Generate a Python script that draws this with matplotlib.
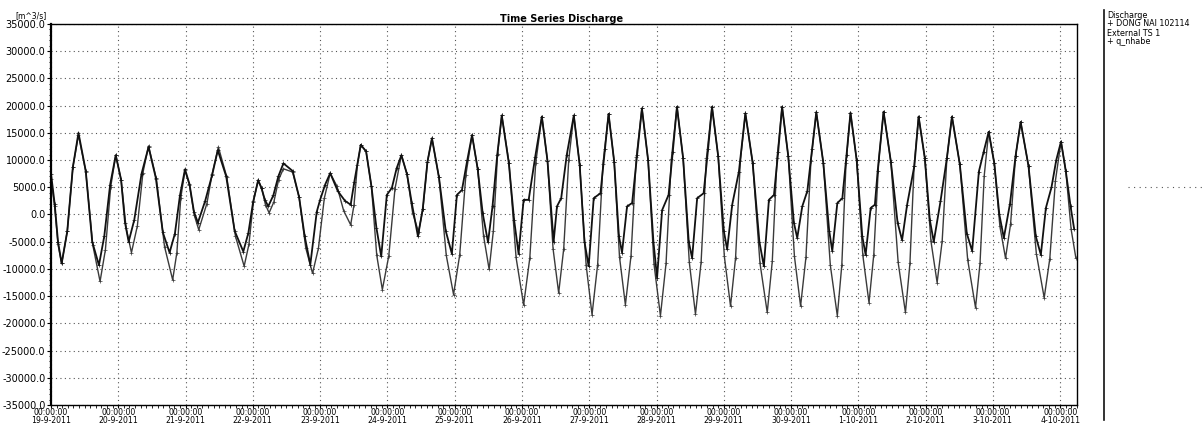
import matplotlib
matplotlib.use("Agg")
import matplotlib.dates as mdates
import matplotlib.pyplot as plt
import numpy as np
import pandas as pd
from matplotlib.lines import Line2D
from matplotlib.ticker import FuncFormatter, MultipleLocator

START = pd.Timestamp("2011-09-19 00:00:00")
END = pd.Timestamp("2011-10-04 06:00:00")

# Discharge -> DONG NAI 102114 (hours since start, m^3/s)
hours_dongnai = [
    0.0, 1.3, 2.5, 3.8, 5.8, 7.8, 9.8, 12.4, 14.7, 17.1, 19.0, 21.1, 23.1,
    25.0, 26.4, 27.7, 29.7, 32.3, 34.8, 37.4, 39.9, 42.3, 44.2, 46.0, 47.8,
    49.4, 51.0, 52.4, 55.0, 57.5, 59.5, 62.5, 65.5, 68.6, 70.4, 72.1, 73.9,
    75.1, 76.3, 77.5, 79.3, 81.1, 82.9, 86.2, 88.5, 90.5, 92.5, 94.8, 96.0,
    97.8, 99.6, 102.3, 104.9, 106.9, 108.2, 110.5, 112.4, 114.3, 116.1, 117.8,
    119.8, 121.6, 123.3, 125.0, 127.0, 128.7, 130.9, 132.6, 134.3, 135.9,
    138.4, 140.8, 143.0, 144.8, 146.6, 148.5, 150.2, 152.2, 154.0, 155.9,
    157.5, 159.2, 160.8, 163.3, 165.2, 166.8, 168.6, 170.4, 172.7, 175.1,
    177.1, 179.3, 180.5, 182.0, 184.0, 186.5, 188.6, 190.3, 191.8, 193.6,
    196.0, 197.6, 198.9, 200.9, 202.6, 203.7, 205.5, 207.3, 209.1, 210.8,
    213.0, 214.9, 216.2, 218.0, 220.3, 221.8, 223.3, 225.5, 227.5, 228.7,
    230.5, 232.8, 234.4, 235.8, 238.0, 240.0, 241.2, 243.0, 245.4, 247.7,
    250.3, 252.7, 254.3, 256.1, 257.9, 259.4, 260.8, 263.0, 265.0, 266.2,
    268.0, 269.8, 271.5, 273.0, 275.5, 277.6, 278.7, 280.5, 282.3, 283.8,
    285.2, 287.4, 289.4, 290.6, 292.4, 293.9, 294.9, 297.0, 299.6, 302.0,
    303.6, 305.4, 308.0, 309.5, 311.7, 313.5, 314.9, 317.3, 319.6, 321.4,
    324.2, 326.7, 328.6, 331.0, 332.7, 334.5, 336.5, 338.3, 339.9, 342.1,
    344.1, 345.9, 348.7, 351.3, 353.1, 354.9, 356.9, 358.6, 360.3, 362.0,
    363.7, 365.0,
]
flow_dongnai = [
    7500, 2000, -5000, -9000, -3100, 8700, 15000, 8000, -5000, -9300, -4000, 5500, 10900,
    6400, -1500, -5000, -1000, 7500, 12400, 6700, -3300, -7000, -3500, 3500, 8300,
    5600, 500, -1500, 2500, 7300, 11800, 7000, -3000, -6800, -3400, 2300, 6300,
    4800, 2700, 1500, 3500, 7000, 9400, 8000, 3200, -4000, -9200, 500, 2700,
    5500, 7600, 4300, 2500, 1800, 6000, 12800, 11600, 5200, -2500, -7700,
    3600, 4900, 8500, 10900, 7400, 2100, -4000, 1000, 9700, 14000,
    6800, -3000, -7200, 3600, 4500, 10000, 14600, 8400, 200, -5100,
    1500, 11000, 18200, 9500, -1000, -7200, 2700, 2700, 10500, 18000,
    9900, -5000, 1500, 3000, 11000, 18200, 9100, -5000, -9500, 3000,
    3900, 12000, 18500, 9700, -4000, -7000, 1500, 2100, 11000, 19500,
    10000, -5000, -11600, 800, 3600, 11500, 19800, 10300, -5000, -8000,
    3000, 3900, 12000, 19800, 10700, -3000, -6400, 1800, 7900, 18600,
    9500, -5000, -9500, 2700, 3600, 11500, 19800, 10700, -1500, -4300,
    1500, 4300, 12000, 18800, 9500, -3000, -6700, 2100, 3000, 11000,
    18700, 10000, -4000, -7400, 1200, 1800, 8000, 18900, 9700, -1500,
    -4700, 1800, 9000, 18000, 10400, -1000, -5000, 2400, 10400, 18000,
    9200, -3500, -6700, 7900, 11500, 15200, 9400, 0, -4300, 2000,
    10800, 17000, 8900, -4000, -7400, 1200, 5000, 10000, 13400, 8000,
    1500, -2700,
]

# External TS 1 -> q_nhabe (hours since start, m^3/s)
hours_nhabe = [
    0.0, 1.3, 2.5, 3.8, 5.8, 7.8, 9.8, 12.4, 14.9, 17.5, 19.4, 21.3, 23.1,
    25.0, 26.8, 28.7, 30.8, 32.8, 34.8, 37.6, 40.5, 43.4, 44.9, 46.3, 47.8,
    49.4, 51.1, 52.7, 55.6, 57.5, 59.7, 62.7, 65.8, 68.9, 70.6, 72.2, 73.9,
    75.2, 76.5, 77.8, 79.5, 81.2, 82.9, 86.2, 88.5, 90.9, 93.3, 95.4, 97.5,
    99.6, 102.0, 104.4, 106.9, 108.1, 109.3, 110.5, 112.4, 114.3, 116.2, 118.2,
    120.5, 122.7, 125.0, 127.0, 129.0, 131.1, 132.7, 134.3, 135.9, 138.4,
    141.0, 143.6, 145.8, 148.0, 150.2, 152.2, 154.3, 156.3, 157.8, 159.3,
    160.8, 163.4, 165.9, 168.6, 170.8, 172.9, 175.1, 177.1, 179.1, 181.1,
    182.9, 184.7, 186.5, 188.6, 190.9, 193.0, 195.0, 196.9, 198.9, 200.9,
    202.8, 204.9, 206.9, 208.8, 210.8, 213.0, 215.1, 217.4, 219.4, 221.3,
    223.3, 225.5, 227.7, 229.9, 231.9, 233.8, 235.8, 238.0, 240.2, 242.4,
    244.2, 245.9, 247.7, 250.3, 252.9, 255.5, 257.3, 259.0, 260.8, 263.0,
    265.2, 267.4, 269.3, 271.1, 273.0, 275.5, 278.0, 280.5, 282.1, 283.6,
    285.2, 287.4, 289.6, 291.8, 293.5, 295.3, 297.0, 299.6, 302.2, 304.8,
    306.4, 307.9, 309.5, 311.7, 313.9, 316.1, 317.9, 319.6, 321.4, 324.2,
    327.0, 329.8, 331.4, 332.9, 334.5, 336.5, 338.5, 340.5, 342.3, 344.1,
    345.9, 348.7, 351.5, 354.3, 356.3, 358.3, 360.3, 362.0, 363.9, 365.6,
]
flow_nhabe = [
    6500, 1500, -5500, -9000, -3100, 8700, 14600, 7900, -5600, -12300, -6500, 5100, 10900,
    6400, -2500, -7000, -2100, 7700, 12600, 6500, -5900, -12000, -7000, 3100, 8100,
    5400, -100, -2800, 2000, 7500, 12400, 6900, -4000, -9500, -5500, 2400, 6300,
    4800, 1800, 300, 2300, 6400, 8400, 7800, 3200, -6200, -10800, -6200, 3000,
    7600, 5200, 700, -1900, 1800, 9100, 12800, 11600, 5200, -7500, -13800,
    -7600, 4700, 10900, 7400, 300, -3200, 1100, 9700, 14000, 6800,
    -7500, -14700, -7400, 7300, 14600, 8400, -3900, -10100, -3000, 11100,
    18200, 9500, -7900, -16600, -8000, 9400, 18000, 9900, -6300, -14400,
    -6300, 10100, 18200, 9100, -9300, -18400, -9200, 9300, 18500, 9700,
    -7800, -16600, -7600, 10500, 19500, 10000, -9100, -18600, -9000, 10200,
    19800, 10300, -8800, -18300, -8800, 10300, 19800, 10700, -7700, -16800,
    -8000, 9800, 18600, 9500, -8900, -18000, -8600, 10400, 19800, 10700,
    -7700, -16800, -7900, 9900, 18800, 9500, -9300, -18600, -9300, 9400,
    18700, 10000, -7500, -16200, -7400, 10100, 18900, 9700, -8800, -18000,
    -9000, 9000, 18000, 10400, -4900, -12500, -4900, 10400, 18000, 9200,
    -8300, -17100, -9000, 7100, 15200, 9400, -2200, -8000, -1800, 10800,
    17000, 8900, -7200, -15300, -8100, 6200, 13400, 8000, -2700, -8000,
]

legend_blocks = ["Discharge\n+ DONG NAI 102114", "External TS 1\n+ q_nhabe"]


def to_times(hours):
    return START + pd.to_timedelta(np.asarray(hours), unit="h")


def day_label(value, _pos):
    d = mdates.num2date(value)
    return f"{d:%H:%M:%S}\n{d.day}-{d.month}-{d.year}"


fig = plt.figure(figsize=(12.02, 4.26), dpi=100)
ax = fig.add_axes([51 / 1202, 1 - 405 / 426, 1026 / 1202, 381 / 426])

ax.plot(to_times(hours_nhabe), flow_nhabe, color="#3a3a3a", linewidth=1.0,
        marker="+", markersize=2.2, markeredgewidth=0.5)
ax.plot(to_times(hours_dongnai), flow_dongnai, color="#111111", linewidth=1.3,
        marker="+", markersize=2.2, markeredgewidth=0.5)

ax.set_xlim(START, END)
ax.set_ylim(-35000, 35000)

ax.yaxis.set_major_locator(MultipleLocator(5000))
ax.yaxis.set_minor_locator(MultipleLocator(1000))
ax.yaxis.set_major_formatter(FuncFormatter(lambda v, _p: f"{v:.1f}"))
ax.xaxis.set_major_locator(mdates.DayLocator())
ax.xaxis.set_minor_locator(mdates.HourLocator(interval=2))
ax.xaxis.set_major_formatter(FuncFormatter(day_label))

ax.tick_params(axis="y", which="major", labelsize=7, length=3, width=0.8, pad=1)
ax.tick_params(axis="y", which="minor", length=1.5, width=0.6)
ax.tick_params(axis="x", which="major", labelsize=5.6, length=2, width=0.8, pad=0.5)
ax.tick_params(axis="x", which="minor", length=2, width=0.6)
for label in ax.get_xticklabels():
    label.set_linespacing(0.82)

ax.grid(True, which="major", linestyle=(0, (1, 3)), color="#555555", linewidth=0.8)

for spine in ax.spines.values():
    spine.set_linewidth(1.0)
ax.spines["left"].set_linewidth(1.6)

fig.text(0.467, 1 - 18.5 / 426, "Time Series Discharge", fontsize=7,
         fontweight="bold", ha="center", va="center")
fig.text(15 / 1202, 1 - 15.5 / 426, "[m^3/s]", fontsize=5.5, ha="left", va="center")

# legend panel on the right
fig.add_artist(Line2D([1104 / 1202, 1104 / 1202], [1 - 10 / 426, 1 - 420 / 426],
                      color="#111111", linewidth=1.2))
for text, y_px in zip(legend_blocks, [11, 29]):
    fig.text(1107 / 1202, 1 - y_px / 426, text, fontsize=5.8, ha="left", va="top",
             linespacing=0.9)
fig.add_artist(Line2D([1128 / 1202, 1.0], [1 - 187 / 426, 1 - 187 / 426],
                      color="#555555", linewidth=0.8, linestyle=(0, (1, 4))))

fig.savefig("out.png", dpi=100)
